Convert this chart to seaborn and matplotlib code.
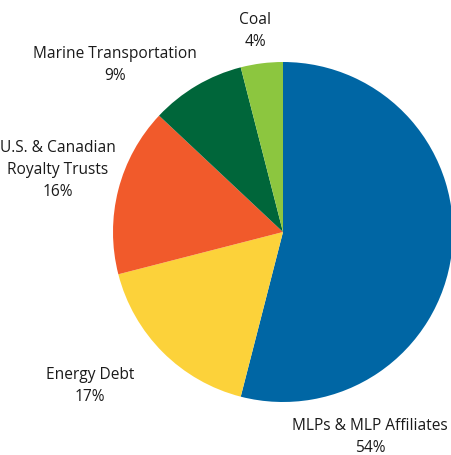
import matplotlib
matplotlib.use("Agg")
import matplotlib.pyplot as plt
import seaborn as sns

# Portfolio allocation by sector
sectors = ["MLPs & MLP Affiliates", "Energy Debt", "U.S. & Canadian\nRoyalty Trusts",
           "Marine Transportation", "Coal"]
shares = [54, 17, 16, 9, 4]
colors = ["#0066a4", "#fcd23a", "#f15a2b", "#00663a", "#8cc63f"]

# label centres in pixels (x, y from top)
label_px = [(370, 437), (90, 386), (58, 170), (115, 65), (255, 31)]

sns.set_theme(style="white")
plt.rcParams['font.family'] = ['Open Sans', 'DejaVu Sans']

W, H = 452, 455
fig = plt.figure(figsize=(W / 100, H / 100), dpi=100)
ax = fig.add_axes([0, 0, 1, 1])

cx, cy, r = 283, 232, 170
ax.pie(shares, colors=colors, startangle=90, counterclock=False, radius=1,
       wedgeprops=dict(linewidth=0))
ax.set_xlim(-cx / r, (W - cx) / r)
ax.set_ylim((cy - H) / r, cy / r)
ax.set_aspect("equal")
ax.axis("off")

for name, val, (px, py) in zip(sectors, shares, label_px):
    fig.text(px / W, 1 - py / H, f"{name}\n{val}%", ha="center", va="center",
             fontsize=11.2, linespacing=1.5, color="#1a1a1a")

fig.savefig("out.png", dpi=100)
